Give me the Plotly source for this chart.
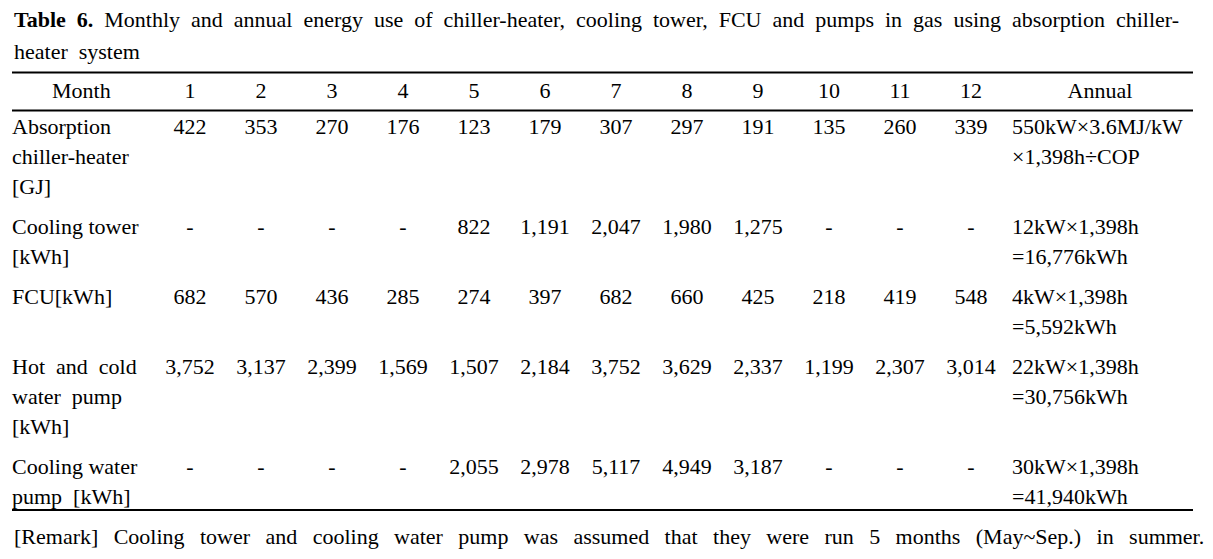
import plotly.graph_objects as go

# table content
months = ["1", "2", "3", "4", "5", "6", "7", "8", "9", "10", "11", "12"]
absorption = [422, 353, 270, 176, 123, 179, 307, 297, 191, 135, 260, 339]
cooling_tower = [None, None, None, None, 822, 1191, 2047, 1980, 1275, None, None, None]
fcu = [682, 570, 436, 285, 274, 397, 682, 660, 425, 218, 419, 548]
hot_cold_pump = [3752, 3137, 2399, 1569, 1507, 2184, 3752, 3629, 2337, 1199, 2307, 3014]
cooling_water_pump = [None, None, None, None, 2055, 2978, 5117, 4949, 3187, None, None, None]

row_labels = [
    ["Absorption", "chiller-heater", "[GJ]"],
    ["Cooling tower", "[kWh]"],
    ["FCU[kWh]"],
    ["Hot and cold", "water pump", "[kWh]"],
    ["Cooling water", "pump [kWh]"],
]
annual = [
    ["550kW×3.6MJ/kW", "×1,398h÷COP"],
    ["12kW×1,398h", "=16,776kWh"],
    ["4kW×1,398h", "=5,592kWh"],
    ["22kW×1,398h", "=30,756kWh"],
    ["30kW×1,398h", "=41,940kWh"],
]
rows = [absorption, cooling_tower, fcu, hot_cold_pump, cooling_water_pump]

title = ("<b>Table 6.</b> Monthly and annual energy use of chiller-heater, cooling tower, "
         "FCU and pumps in gas using absorption chiller-")
title2 = "heater system"
remark = ("[Remark] Cooling tower and cooling water pump was assumed that they were "
          "run 5 months (May~Sep.) in summer.")

# layout (axis units = screen pixels; the html body has an 8px margin)
W, H, PAD = 1213, 559, 8
FONT = dict(family="Liberation Serif, Times New Roman, serif", size=22, color="black")
left, right = 12, 1193
col0, col_step = 190, 71
annual_x = 1012
header_y = 92
first_y, line_h, row_gap = 128, 30, 10
rules = [72.5, 110.5, 510]
wide = {"Hot and cold", "water pump", "pump [kWh]"}


def fmt(v):
    return "-" if v is None else f"{v:,}"


def justify(s, gap):
    # mimic the justified spacing of the printed table
    return gap.join(s.split(" "))


cx, cy, ct = [], [], []      # centered cells
lx, ly, lt = [], [], []      # left aligned cells

lx.append(left + 40); ly.append(header_y); lt.append("Month")
for i, m in enumerate(months):
    cx.append(col0 + i * col_step); cy.append(header_y); ct.append(m)
cx.append(1100); cy.append(header_y); ct.append("Annual")

y = first_y
for labels, vals, ann in zip(row_labels, rows, annual):
    for k, s in enumerate(labels):
        lx.append(left); ly.append(y + k * line_h)
        lt.append(justify(s, "\u2002") if s in wide else s)
    for i, v in enumerate(vals):
        cx.append(col0 + i * col_step); cy.append(y); ct.append(fmt(v))
    for k, s in enumerate(ann):
        lx.append(annual_x); ly.append(y + k * line_h); lt.append(s)
    y += max(len(labels), len(ann)) * line_h + row_gap

fig = go.Figure()
fig.add_trace(go.Scatter(x=cx, y=cy, text=ct, mode="text", textposition="middle center",
                         textfont=FONT, hoverinfo="skip", showlegend=False))
fig.add_trace(go.Scatter(x=lx, y=ly, text=lt, mode="text", textposition="middle right",
                         textfont=FONT, hoverinfo="skip", showlegend=False,
                         marker=dict(size=0)))

for r in rules:
    fig.add_shape(type="line", x0=left, x1=right, y0=r, y1=r, xref="x", yref="y",
                  line=dict(color="black", width=1.8))

fig.add_annotation(x=left, y=19, xref="x", yref="y", text=justify(title, "\u2002"),
                   showarrow=False, xanchor="left", yanchor="middle", font=FONT)
fig.add_annotation(x=left, y=51, xref="x", yref="y", text=justify(title2, "\u2002"),
                   showarrow=False, xanchor="left", yanchor="middle", font=FONT)
fig.add_annotation(x=left, y=536, xref="x", yref="y", text=justify(remark, "\u2002\u2009"),
                   showarrow=False, xanchor="left", yanchor="middle", font=FONT)

fig.update_xaxes(range=[PAD, W], visible=False, fixedrange=True)
fig.update_yaxes(range=[H, PAD], visible=False, fixedrange=True)
fig.update_layout(width=W - PAD, height=H - PAD, margin=dict(l=0, r=0, t=0, b=0),
                  paper_bgcolor="white", plot_bgcolor="white", template="plotly_white")

fig.write_html("out.html")
